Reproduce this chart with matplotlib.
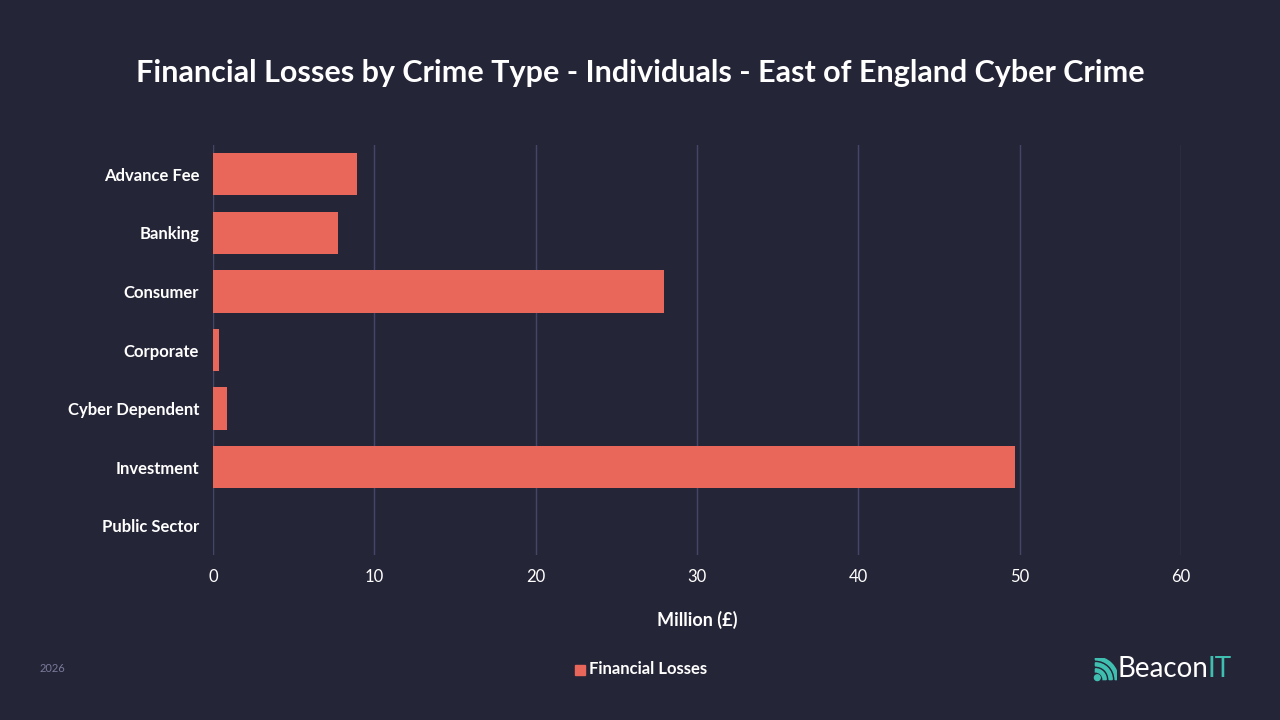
import matplotlib
matplotlib.use("Agg")
import matplotlib.pyplot as plt
from matplotlib.patches import Wedge, Circle

categories = ["Advance Fee", "Banking", "Consumer", "Corporate", "Cyber Dependent", "Investment", "Public Sector"]
losses = [8.9, 7.75, 27.95, 0.37, 0.87, 49.7, 0.0]
xticks = [0, 10, 20, 30, 40, 50, 60]

BG = "#252538"
BAR = "#e8665a"
plt.rcParams['font.family'] = ['Lato', 'DejaVu Sans']

fig = plt.figure(figsize=(12.8, 7.2), dpi=100, facecolor=BG)
ax = fig.add_axes([213/1280, 1-555/720, (1181-213)/1280, (555-145)/720], facecolor=BG)
y = list(range(len(categories)))
ax.barh(y, losses, height=0.72, color=BAR, zorder=3)
ax.set_ylim(len(categories)-0.5, -0.5)
ax.set_xlim(0, 60)
ax.set_xticks(xticks)
ax.set_xticklabels([str(t) for t in xticks], color="white", fontsize=12)
ax.set_yticks(y)
ax.set_yticklabels(categories, color="white", fontsize=12, fontweight="bold")
ax.tick_params(length=0)
ax.tick_params(axis='y', pad=10)
ax.tick_params(axis='x', pad=10)
ax.grid(axis='x', color="#45456a", linewidth=1, zorder=0)
for s in ax.spines.values():
    s.set_visible(False)
ax.set_xlabel("Million (£)", color="white", fontsize=13, fontweight="bold", labelpad=19)

fig.text(0.5, 1-73/720, "Financial Losses by Crime Type - Individuals - East of England Cyber Crime",
         ha="center", va="center", color="white", fontsize=22, fontweight="bold")
fig.text(40/1280, 1-668/720, "2026", color="#7a7a9a", fontsize=8, va="center")
fig.patches.append(plt.Rectangle((575/1280, 1-675/720), 10/1280, 10/720, color=BAR, transform=fig.transFigure, figure=fig))
fig.text(589/1280, 1-669/720, "Financial Losses", color="white", fontsize=12, fontweight="bold", va="center")
fig.text(1118/1280, 1-669/720, "Beacon", color="white", fontsize=20, va="center")
fig.text(1207/1280, 1-669/720, "IT", color="#3fbfb0", fontsize=20, va="center")
# logo icon
lax = fig.add_axes([1093/1280, 1-682/720, 24/1280, 24/720])
lax.set_xlim(0, 1); lax.set_ylim(0, 1); lax.axis('off')
lax.add_patch(Circle((0.18, 0.18), 0.12, color="#3fbfb0"))
for r in (0.45, 0.7, 0.95):
    lax.add_patch(Wedge((0.1, 0.1), r, 0, 90, width=0.13, color="#3fbfb0"))
fig.savefig("out.png", facecolor=BG)
